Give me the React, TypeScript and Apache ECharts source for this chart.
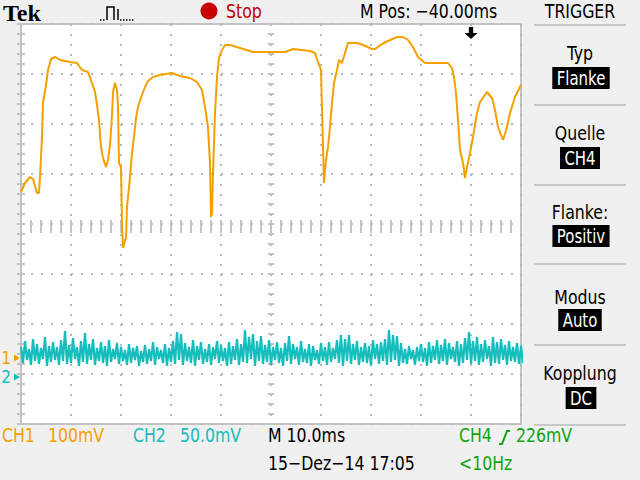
import React, { useEffect, useRef } from "react";
import * as echarts from "echarts";

// ---- CH1 (orange) trace: time in ms from left edge, value in mV above CH1 ground
const ch1TimeMs = [0, 0.8, 1.8, 2.4, 3.2, 3.6, 3.8, 4.2, 4.4, 5.0, 5.4, 6.0, 6.8, 7.8, 9.8, 11.2, 12.2, 13.4, 14.2, 14.8, 15.2, 15.6, 16.0, 16.4, 17.0, 17.4, 17.8, 18.2, 18.4, 18.8, 19.2, 19.4, 19.6, 20.0, 20.2, 20.4, 21.0, 21.2, 21.8, 22.2, 22.6, 23.0, 23.4, 24.2, 24.8, 25.4, 26.4, 27.8, 30.2, 31.8, 33.8, 35.2, 36.2, 36.8, 37.4, 37.8, 38.0, 38.2, 38.4, 38.8, 39.2, 39.6, 40.2, 40.8, 41.8, 43.8, 46.4, 52.8, 54.4, 57.8, 58.8, 59.4, 60.0, 60.1, 60.4, 60.6, 61.0, 61.4, 61.8, 62.2, 62.6, 63.2, 63.6, 64.2, 64.8, 65.4, 67.2, 68.4, 70.2, 70.8, 72.2, 73.4, 75.2, 76.4, 77.4, 78.4, 79.4, 80.8, 85.4, 86.2, 86.6, 87.0, 87.4, 87.8, 88.4, 88.8, 89.2, 89.8, 90.4, 91.2, 91.8, 93.2, 94.2, 94.8, 95.4, 96.4, 97.2, 97.8, 98.8, 100];
const ch1MilliVolts = [332, 350, 362, 358, 330, 330, 362, 442, 510, 546, 576, 598, 602, 596, 592, 590, 576, 572, 550, 532, 506, 476, 422, 400, 382, 396, 426, 486, 532, 550, 536, 502, 390, 382, 270, 220, 242, 302, 362, 410, 442, 480, 502, 526, 542, 554, 562, 566, 570, 564, 560, 552, 536, 502, 462, 390, 282, 290, 370, 490, 562, 600, 616, 626, 626, 620, 612, 612, 618, 614, 610, 592, 576, 536, 422, 350, 396, 422, 462, 510, 550, 576, 596, 590, 610, 630, 630, 626, 618, 618, 628, 634, 642, 642, 636, 622, 602, 590, 590, 580, 562, 530, 476, 416, 390, 360, 382, 410, 442, 490, 512, 532, 520, 496, 462, 436, 462, 490, 522, 546];

// ---- CH2 (cyan) noise envelope: per 0.8 ms column, upper and lower excursion in mV above CH2 ground
const ch2ColumnMs = 0.8;
const ch2HighMv = [30, 36, 28, 38, 33, 29, 40, 31, 35, 30, 37, 46, 32, 39, 30, 36, 44, 33, 38, 29, 35, 31, 37, 28, 34, 30, 27, 33, 29, 31, 26, 32, 28, 35, 30, 27, 33, 29, 36, 45, 43, 34, 30, 37, 31, 35, 28, 33, 30, 36, 32, 29, 35, 31, 38, 33, 47, 40, 43, 36, 41, 32, 37, 30, 35, 29, 34, 41, 33, 30, 36, 28, 33, 31, 27, 34, 30, 35, 29, 37, 42, 38, 42, 33, 36, 30, 34, 31, 37, 33, 35, 38, 47, 42, 41, 34, 28, 31, 27, 30, 33, 29, 35, 31, 37, 32, 38, 34, 30, 36, 33, 39, 45, 36, 40, 33, 37, 31, 40, 35, 38, 32, 36, 30, 34, 31];
const ch2LowMv = [14, 17, 12, 16, 13, 18, 11, 15, 17, 12, 16, 13, 14, 18, 11, 15, 13, 17, 12, 16, 14, 11, 15, 18, 13, 16, 12, 14, 17, 11, 15, 13, 16, 12, 18, 14, 11, 15, 13, 17, 12, 16, 14, 11, 17, 13, 15, 12, 18, 14, 16, 11, 13, 17, 12, 15, 14, 18, 11, 16, 13, 15, 12, 17, 14, 11, 16, 13, 18, 12, 15, 14, 11, 17, 13, 16, 12, 15, 18, 14, 11, 16, 13, 17, 12, 15, 14, 11, 18, 13, 16, 12, 15, 17, 11, 14, 13, 18, 12, 16, 15, 11, 14, 17, 13, 16, 12, 18, 15, 11, 14, 17, 13, 16, 12, 15, 18, 11, 14, 13, 17, 12, 16, 15, 13, 14];

// ---- scope settings
const ch1MvPerDiv = 100;
const ch2MvPerDiv = 50;
const ch1GroundDiv = -2.68;
const ch2GroundDiv = -3.06;
const msPerDiv = 10;
const timeSpanMs = 100;
const triggerTimeMs = 90;
const verticalDivs = [-4, 4];

const COL_CH1 = "#f5a000";
const COL_CH2 = "#16bdbd";
const COL_CH4 = "#12a312";
const FONT = "'Liberation Sans Narrow','DejaVu Sans Condensed','Arial Narrow','Liberation Sans',sans-serif";
const NARROW = 0.875;

function txt(text: string, x: number, y: number, color: string, size: number, align = "left", extra: any = {}) {
  return {
    type: "text",
    x,
    y,
    scaleX: NARROW,
    silent: true,
    style: {
      text,
      fill: color,
      font: `${size}px ${FONT}`,
      align,
      textAlign: align,
      verticalAlign: "middle",
      textVerticalAlign: "middle",
      ...extra,
    },
  };
}

function boxed(text: string, x: number, y: number) {
  return txt(text, x, y, "#ffffff", 19, "center", {
    backgroundColor: "#000000",
    padding: [2, 5, 1, 5],
  });
}

export default function App() {
  const ref = useRef<HTMLDivElement>(null);
  useEffect(() => {
    if (!ref.current) return;
    const chart = echarts.init(ref.current, undefined, { renderer: "svg" });

    const ch1Data = ch1TimeMs.map((t, i) => [t, ch1MilliVolts[i] / ch1MvPerDiv + ch1GroundDiv]);
    const ch2Data: number[][] = [];
    const n = Math.min(ch2HighMv.length, ch2LowMv.length);
    for (let k = 0; k < n; k++) {
      ch2Data.push([k * ch2ColumnMs, ch2HighMv[k] / ch2MvPerDiv + ch2GroundDiv]);
      ch2Data.push([k * ch2ColumnMs + ch2ColumnMs / 2, ch2LowMv[k] / ch2MvPerDiv + ch2GroundDiv]);
    }

    const tickColor = "#c4c4c4";
    const baseX = {
      type: "value",
      min: 0,
      max: timeSpanMs,
      interval: msPerDiv,
      axisLabel: { show: false },
      axisLine: { show: false },
      splitLine: { show: false },
      axisTick: { show: true, inside: true, length: 4, lineStyle: { color: tickColor, width: 2 } },
      minorTick: { show: true, splitNumber: 5, length: 4, lineStyle: { color: tickColor, width: 2 } },
    };
    const baseY = {
      type: "value",
      min: verticalDivs[0],
      max: verticalDivs[1],
      interval: 1,
      axisLabel: { show: false },
      axisLine: { show: false },
      splitLine: { show: false },
      axisTick: { show: true, inside: true, length: 4, lineStyle: { color: tickColor, width: 2 } },
      minorTick: { show: true, splitNumber: 5, length: 4, lineStyle: { color: tickColor, width: 2 } },
    };
    const dotted = { show: true, lineStyle: { color: "#b8b8b8", width: 2, type: [2, 8] } };
    const centerTick = { show: true, inside: false, length: 6, lineStyle: { color: tickColor, width: 2 } };
    const centerMinor = { show: true, splitNumber: 5, length: 6, lineStyle: { color: tickColor, width: 2 } };

    const sep = (y: number) => ({
      type: "line",
      silent: true,
      shape: { x1: 534, y1: y, x2: 626, y2: y },
      style: { stroke: "#c8c8c8", lineWidth: 2 },
    });

    const markerLabel = (t: string, c: string) => ({
      show: true,
      formatter: t,
      position: "left",
      distance: 3,
      color: c,
      fontSize: 17,
      lineHeight: 14,
      fontFamily: FONT,
    });

    chart.setOption({
      animation: false,
      backgroundColor: "#f0f0f0",
      grid: {
        left: 21,
        top: 24,
        width: 500,
        height: 400,
        show: true,
        backgroundColor: "#ffffff",
        borderColor: "#c4c4c4",
        borderWidth: 2,
      },
      xAxis: [
        { ...baseX, position: "bottom", splitLine: dotted },
        { ...baseX, position: "top" },
        { ...baseX, position: "bottom", offset: -203, axisTick: centerTick, minorTick: centerMinor },
      ],
      yAxis: [
        { ...baseY, position: "left", splitLine: dotted },
        { ...baseY, position: "right" },
        { ...baseY, position: "left", offset: -253, axisTick: centerTick, minorTick: centerMinor },
      ],
      series: [
        {
          type: "line",
          name: "CH2",
          data: ch2Data,
          showSymbol: false,
          symbol: "none",
          lineStyle: { color: COL_CH2, width: 2.2 },
          itemStyle: { color: COL_CH2 },
          markPoint: {
            silent: true,
            data: [
              {
                coord: [0, ch2GroundDiv],
                symbol: "path://M0,0 L8,4 L0,8 Z",
                symbolSize: [6, 7],
                symbolOffset: [-4, 0],
                itemStyle: { color: COL_CH2 },
                label: markerLabel("2", COL_CH2),
              },
            ],
          },
        },
        {
          type: "line",
          name: "CH1",
          data: ch1Data,
          showSymbol: false,
          symbol: "none",
          lineStyle: { color: COL_CH1, width: 2 },
          itemStyle: { color: COL_CH1 },
          markPoint: {
            silent: true,
            data: [
              {
                coord: [0, ch1GroundDiv],
                symbol: "path://M0,0 L8,4 L0,8 Z",
                symbolSize: [6, 7],
                symbolOffset: [-4, 0],
                itemStyle: { color: COL_CH1 },
                label: markerLabel("1", COL_CH1),
              },
              {
                coord: [triggerTimeMs, verticalDivs[1]],
                symbol: "path://M4,0 L8,0 L8,6 L12,6 L6,12 L0,6 L4,6 Z",
                symbolSize: [13, 12],
                symbolOffset: [0, 9],
                itemStyle: { color: "#000000" },
                label: { show: false },
              },
            ],
          },
        },
      ],
      graphic: [
        // header
        {
          type: "text",
          x: 3,
          y: 13,
          silent: true,
          style: { text: "Tek", fill: "#000", font: "bold 24px 'Liberation Serif', serif", align: "left", textAlign: "left", verticalAlign: "middle", textVerticalAlign: "middle" },
        },
        {
          type: "polyline",
          silent: true,
          shape: { points: [[107, 20], [107, 7], [114, 7], [114, 20]] },
          style: { stroke: "#000", lineWidth: 1.5, fill: null },
        },
        {
          type: "line",
          silent: true,
          shape: { x1: 118, y1: 9, x2: 118, y2: 20 },
          style: { stroke: "#000", lineWidth: 1.5 },
        },
        {
          type: "line",
          silent: true,
          shape: { x1: 100, y1: 20, x2: 106, y2: 20 },
          style: { stroke: "#000", lineWidth: 1.5, lineDash: [1.5, 1.5] },
        },
        {
          type: "line",
          silent: true,
          shape: { x1: 120, y1: 20, x2: 135, y2: 20 },
          style: { stroke: "#000", lineWidth: 1.5, lineDash: [1.5, 1.5] },
        },
        { type: "circle", silent: true, shape: { cx: 209, cy: 11, r: 8.5 }, style: { fill: "#c80000" } },
        txt("Stop", 226, 11, "#c00000", 20),
        txt("M Pos: \u221240.00ms", 360, 11, "#000", 20),
        txt("TRIGGER", 580, 11, "#000", 20, "center"),

        // right menu
        sep(25),
        sep(105),
        sep(185),
        sep(264),
        sep(345),
        sep(425),
        txt("Typ", 580, 53, "#000", 20, "center"),
        boxed("Flanke", 581, 78),
        txt("Quelle", 580, 133, "#000", 20, "center"),
        boxed("CH4", 580, 158),
        txt("Flanke:", 580, 212, "#000", 20, "center"),
        boxed("Positiv", 581, 236),
        txt("Modus", 580, 297, "#000", 20, "center"),
        boxed("Auto", 580, 320),
        txt("Kopplung", 580, 373, "#000", 20, "center"),
        boxed("DC", 581, 398),

        // footer
        txt("CH1", 2, 435, COL_CH1, 20),
        txt("100mV", 48, 435, COL_CH1, 20),
        txt("CH2", 133, 435, COL_CH2, 20),
        txt("50.0mV", 180, 435, COL_CH2, 20),
        txt("M 10.0ms", 268, 435, "#000", 20),
        txt("15\u2212Dez\u221214 17:05", 268, 463, "#000", 20),
        txt("CH4", 459, 435, COL_CH4, 20),
        {
          type: "polyline",
          silent: true,
          shape: { points: [[499, 444], [502, 444], [507, 431], [510, 431]] },
          style: { stroke: COL_CH4, lineWidth: 2, fill: null },
        },
        txt("226mV", 516, 435, COL_CH4, 20),
        txt("<10Hz", 459, 463, COL_CH4, 20),
      ],
    });

    return () => chart.dispose();
  }, []);

  return <div ref={ref} style={{ position: "absolute", left: 0, top: 0, width: 640, height: 480 }} />;
}
